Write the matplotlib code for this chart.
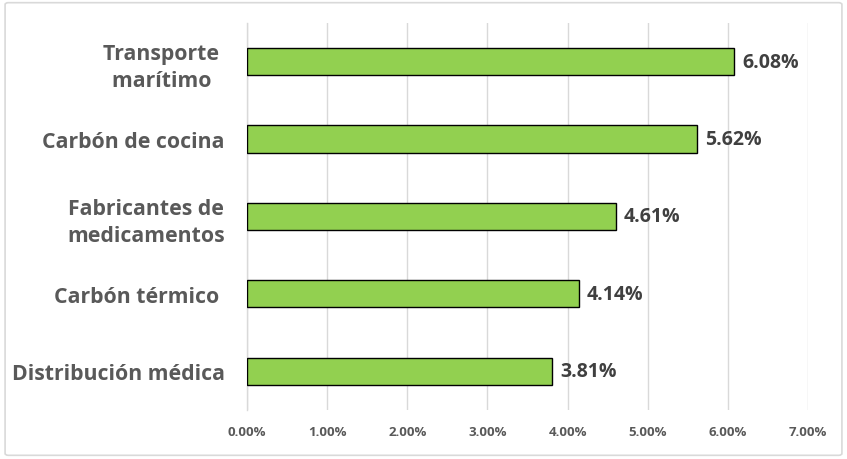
import matplotlib
matplotlib.use("Agg")
import matplotlib.pyplot as plt
from matplotlib.patches import FancyBboxPatch

categories = ["Transporte \nmarítimo ", "Carbón de cocina", "Fabricantes de\nmedicamentos",
              "Carbón térmico ", "Distribución médica"]
values = [6.08, 5.62, 4.61, 4.14, 3.81]
xticks = [0, 1, 2, 3, 4, 5, 6, 7]
xticklabels = ["0.00%", "1.00%", "2.00%", "3.00%", "4.00%", "5.00%", "6.00%", "7.00%"]

plt.rcParams['font.family'] = ['Open Sans', 'DejaVu Sans']

fig = plt.figure(figsize=(8.47, 4.6), dpi=100)
fig.patch.set_facecolor("white")
border = FancyBboxPatch((0.006, 0.008), 0.988, 0.984, boxstyle="round,pad=0,rounding_size=0.004",
                        transform=fig.transFigure, fill=False, edgecolor="#D9D9D9", linewidth=1.2)
fig.patches.append(border)

ax = fig.add_axes([0.2916, 0.1065, 0.6624, 0.8415])
y = list(range(len(categories)))
ax.barh(y, values, height=0.35, color="#92D050", edgecolor="black", linewidth=1.0, zorder=3)
ax.set_ylim(len(categories) - 0.5, -0.5)
ax.set_xlim(0, 7)
ax.set_xticks(xticks)
ax.set_xticklabels(xticklabels, fontsize=9.5, fontweight="bold", color="#595959")
ax.set_yticks(y)
ax.set_yticklabels(categories, fontsize=15.3, fontweight="bold", color="#595959",
                   multialignment="center", linespacing=1.35)
ax.tick_params(axis="both", length=0)
ax.tick_params(axis="x", pad=11)
ax.tick_params(axis="y", pad=16)
ax.grid(axis="x", color="#D9D9D9", linewidth=1.0, zorder=0)
for s in ["top", "right", "bottom"]:
    ax.spines[s].set_visible(False)
ax.spines["left"].set_color("#D9D9D9")
ax.spines["left"].set_linewidth(1.0)

for yi, v in zip(y, values):
    ax.annotate(f"{v:.2f}%", (v, yi), xytext=(5.5, 0), textcoords="offset points",
                va="center", ha="left", fontsize=14, fontweight="bold", color="#404040")

fig.savefig("out.png", dpi=100)
